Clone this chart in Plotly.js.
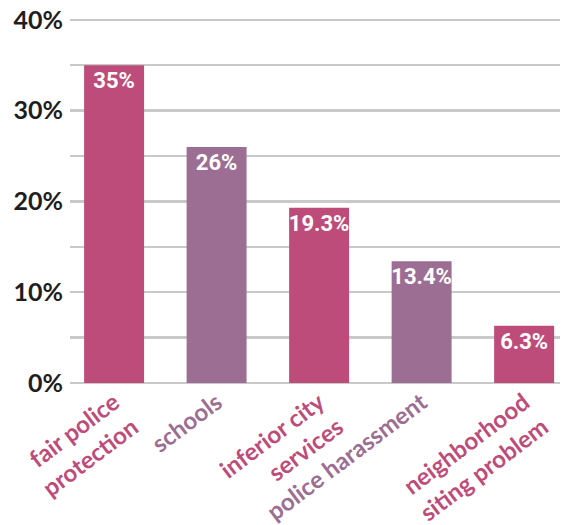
<!DOCTYPE html>
<html><head><meta charset="utf-8">
<script src="https://cdn.plot.ly/plotly-3.0.1.min.js"></script>
<style>body{margin:0;background:#fff}#c{width:564px;height:525px}</style>
</head><body><div id="c"></div>
<script>
const categories = ["fair police<br>protection", "schools", "inferior city<br>services", "police harassment", "neighborhood<br>siting problem"];
const values = [35, 26, 19.3, 13.4, 6.3];
const valueLabels = ["35%", "26%", "19.3%", "13.4%", "6.3%"];
const barColors = ["#BE4C7B", "#9C6E93", "#BE4C7B", "#9C6E93", "#BE4C7B"];
const yTickVals = [0, 5, 10, 15, 20, 25, 30, 35, 40];
const yTickText = ["0%", "", "10%", "", "20%", "", "30%", "", "40%"];

const idx = categories.map((_, i) => i);
const tickText = categories.map((c, i) => '<span style="color:' + barColors[i] + '"><b>' + c + '</b></span>');

const trace = {
  type: "bar",
  x: idx,
  y: values,
  marker: {color: barColors},
  text: valueLabels,
  textposition: "inside",
  insidetextanchor: "end",
  textangle: 0,
  constraintext: "none",
  textfont: {family: "Roboto", size: 22, color: "#ffffff", weight: "bold"},
  hoverinfo: "skip"
};

const layout = {
  width: 564, height: 525,
  margin: {l: 70, r: 4, t: 18, b: 142},
  paper_bgcolor: "#ffffff", plot_bgcolor: "#ffffff",
  showlegend: false,
  bargap: 0.415,
  xaxis: {
    range: [-0.43, 4.35],
    tickvals: idx, ticktext: tickText,
    tickangle: -37,
    tickfont: {family: "Lato, sans-serif", size: 24, weight: "bold"},
    showgrid: false, zeroline: false, showline: false, ticks: "",
    ticklabelstandoff: 0
  },
  yaxis: {
    range: [0, 40.2],
    tickvals: yTickVals, ticktext: yTickText,
    tickfont: {family: "Lato, sans-serif", size: 25, color: "#1e1e1e", weight: "bold"},
    showgrid: true, gridcolor: "#c9c9c9", gridwidth: 2.5,
    zeroline: true, zerolinecolor: "#c9c9c9", zerolinewidth: 2.5,
    showline: false, ticks: "", ticklabelstandoff: 6
  }
};
Plotly.newPlot("c", [trace], layout, {displayModeBar: false, staticPlot: true});
</script></body></html>
